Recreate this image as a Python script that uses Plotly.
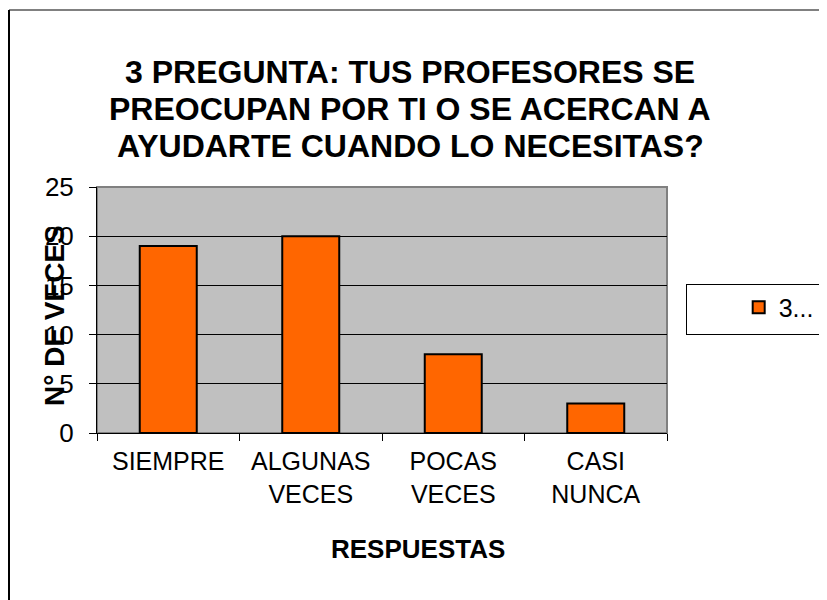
import plotly.graph_objects as go

# ── data ────────────────────────────────────────────────────────────────
categories = ["SIEMPRE", "ALGUNAS<br>VECES", "POCAS<br>VECES", "CASI<br>NUNCA"]
values = [19, 20, 8, 3]
series_name = "3..."
y_ticks = [0, 5, 10, 15, 20, 25]
title_lines = [
    "3 PREGUNTA: TUS PROFESORES SE",
    "PREOCUPAN POR TI O SE ACERCAN A",
    "AYUDARTE CUANDO LO NECESITAS?",
]

FONT = "Liberation Sans, Arial, sans-serif"
ORANGE = "#FF6600"
OFF = 8  # page body margin

fig = go.Figure()
fig.add_trace(go.Bar(
    x=categories, y=values, name=series_name,
    marker=dict(color=ORANGE, line=dict(color="black", width=2)),
))

# plot area on screen (pixels)
L, R, T, B = 97, 667, 187, 433
W, H = R - L, B - T
px = lambda x: (x - L) / W
py = lambda y: (B - y) / H

annotations = [
    dict(text=f"<b>{line}</b>", xref="paper", yref="paper",
         x=px(410), y=py(yc), xanchor="center", yanchor="middle",
         showarrow=False, font=dict(size=32))
    for line, yc in zip(title_lines, [72, 109, 146])
]
annotations += [
    dict(text="<b>RESPUESTAS</b>", xref="paper", yref="paper",
         x=px(418), y=py(549), xanchor="center", yanchor="middle",
         showarrow=False, font=dict(size=26)),
    dict(text="<b>N° DE VECES</b>", xref="paper", yref="paper",
         x=px(54), y=py(316), xanchor="center", yanchor="middle",
         textangle=-90, showarrow=False, font=dict(size=28)),
]

fig.update_layout(
    width=827, height=600,
    margin=dict(l=L - OFF, r=827 - (R - OFF), t=T - OFF, b=600 - (B - OFF)),
    paper_bgcolor="white",
    plot_bgcolor="#C0C0C0",
    bargap=0.6,
    font=dict(family=FONT, size=25, color="black"),
    showlegend=True,
    legend=dict(
        x=px(686), y=py(309), xanchor="left", yanchor="middle",
        bordercolor="black", borderwidth=1, bgcolor="white",
        font=dict(size=25),
        title=dict(text="&nbsp;" * 5, side="left"),
        entrywidth=120,
    ),
    xaxis=dict(
        showline=True, linecolor="black", linewidth=1,
        ticks="outside", ticklen=7, tickcolor="black",
        tickson="boundaries", showgrid=False,
        tickfont=dict(size=25), ticklabelstandoff=6,
    ),
    yaxis=dict(
        range=[0, 25], tickvals=y_ticks,
        showline=True, linecolor="black", linewidth=1,
        ticks="outside", ticklen=7, tickcolor="black",
        showgrid=True, gridcolor="black", gridwidth=1,
        zeroline=False, tickfont=dict(size=26), ticklabelstandoff=10,
    ),
    shapes=[
        dict(type="rect", xref="paper", yref="paper", x0=0, x1=1, y0=0, y1=1,
             line=dict(color="#808080", width=2), layer="below"),
        # outer chart border (top grey, left black)
        dict(type="line", xref="paper", yref="paper",
             x0=px(9), x1=px(840), y0=py(10), y1=py(10),
             line=dict(color="#808080", width=2)),
        dict(type="line", xref="paper", yref="paper",
             x0=px(9), x1=px(9), y0=py(10), y1=py(615),
             line=dict(color="black", width=2)),
    ],
    annotations=annotations,
)

fig.write_html("out.html")
